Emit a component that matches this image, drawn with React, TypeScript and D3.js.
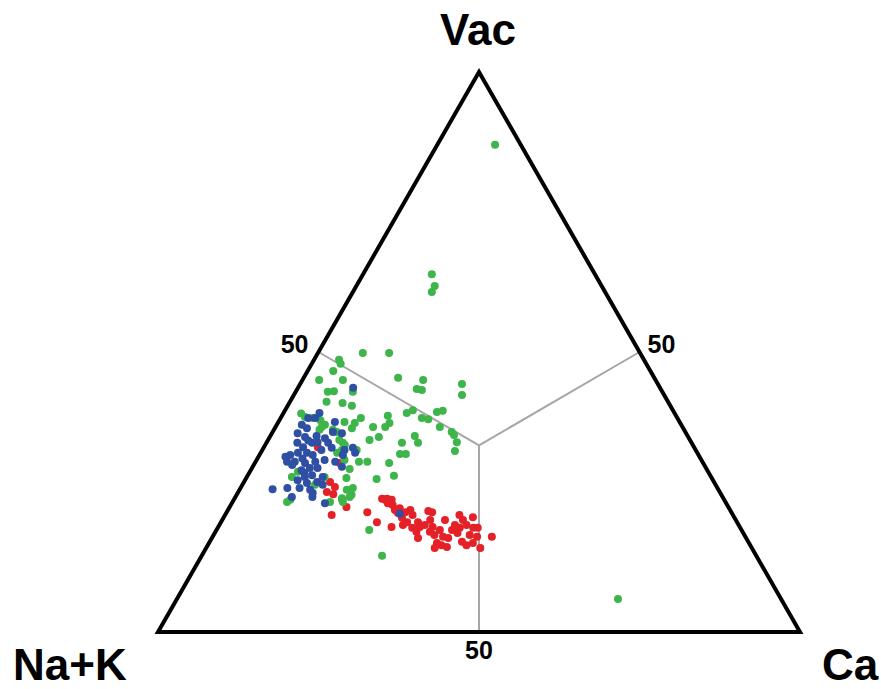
import React from 'react';
import * as d3 from 'd3';

// ternary composition in percent: [Vac, Ca]; Na+K = 100 - Vac - Ca
const greenPts: [number, number][] = [
  [87.0, 9.0], [63.9, 10.7], [61.8, 12.2], [60.7, 12.3], [5.9, 68.7],
  [49.8, 7.0], [49.8, 11.1], [48.6, 3.9], [47.9, 4.5], [46.6, 4.0], [45.0, 2.6], [45.0, 6.3],
  [45.4, 14.7], [45.0, 18.8], [44.3, 25.2], [42.3, 26.2], [43.4, 18.6], [43.2, 19.5],
  [42.9, 5.0], [43.0, 5.9], [42.9, 8.9], [41.1, 5.7], [40.9, 8.3], [40.4, 10.0],
  [38.2, 12.5], [38.6, 16.5], [37.3, 17.4], [36.6, 17.1], [36.6, 15.2], [39.1, 19.2], [39.6, 19.9],
  [39.3, 23.8], [39.5, 24.6], [38.2, 22.0], [38.0, 23.1], [36.6, 25.6], [35.7, 27.9], [35.2, 28.5],
  [35.0, 22.5], [34.8, 17.0], [34.3, 15.8], [33.8, 23.6], [33.8, 21.1], [33.9, 29.6], [32.3, 30.1],
  [31.8, 21.8], [31.8, 22.7], [30.2, 20.9], [30.4, 16.1], [30.4, 17.4], [29.1, 15.3],
  [33.4, 12.4], [36.4, 12.0], [37.5, 10.3], [36.1, 9.2], [37.0, 7.5], [38.4, 3.7], [38.2, 5.0],
  [36.1, 7.1], [33.8, 11.9], [37.3, 12.0], [35.7, 10.0], [32.0, 11.9], [30.7, 13.7], [27.5, 15.6],
  [27.7, 7.0], [28.6, 7.5], [26.3, 11.3], [23.6, 8.8], [23.2, 8.5], [25.4, 16.7], [25.7, 17.5],
  [24.1, 17.8], [23.9, 16.7], [27.7, 12.1], [23.2, 15.2], [18.2, 23.8], [13.6, 28.1],
  [27.3, 20.4], [27.9, 22.8], [23.2, 17.2], [24.5, 17.9], [32.5, 14.7], [32.5, 12.4],
  [34.3, 11.1], [36.6, 7.2], [39.0, 2.8], [37.8, 6.4],
];

const bluePts: [number, number][] = [
  [39.1, 5.6], [38.2, 5.4], [38.2, 4.3], [37.0, 3.9], [36.4, 5.0], [37.5, 8.8], [35.7, 9.4],
  [35.5, 10.9], [35.5, 4.0], [34.8, 5.5], [34.6, 8.7], [33.8, 4.8], [33.0, 6.1], [33.8, 7.1],
  [33.9, 7.9], [33.8, 9.6], [32.5, 9.2], [32.9, 10.6], [32.5, 12.8], [32.9, 13.9], [32.0, 14.7],
  [31.6, 4.8], [32.0, 5.8], [32.0, 7.2], [31.6, 8.3], [30.4, 4.9], [30.4, 6.1], [30.2, 7.8],
  [30.4, 9.3], [30.7, 10.6], [30.4, 12.4], [28.9, 7.9], [29.3, 9.0], [29.3, 10.2], [27.7, 9.0],
  [28.0, 10.0], [27.1, 8.2], [26.6, 9.9], [25.7, 9.2], [25.4, 11.0], [26.8, 11.4], [25.5, 5.1],
  [25.7, 7.3], [24.1, 12.0], [29.8, 6.0], [29.5, 13.9], [43.6, 8.6], [21.1, 27.1], [24.1, 8.8],
  [26.3, 12.5], [23.0, 14.5], [27.7, 11.8], [31.3, 4.2], [31.6, 13.0], [24.8, 11.7],
  [34.2, 6.3], [31.0, 7.0], [28.4, 8.6], [35.0, 7.2],
];

const redPts: [number, number][] = [
  [26.8, 13.4], [25.9, 14.6], [25.0, 13.8], [24.6, 15.0], [23.6, 16.9], [22.3, 18.2], [20.9, 16.6],
  [21.4, 21.9], [19.6, 24.3], [23.8, 23.0], [23.8, 23.8], [23.6, 24.6], [23.0, 24.3], [22.7, 25.2],
  [21.8, 26.0], [21.3, 26.7], [18.75, 27.0], [20.4, 27.8], [21.8, 28.4], [20.9, 29.2], [19.6, 29.0],
  [18.6, 30.3], [19.6, 30.7], [17.9, 31.3], [16.8, 32.1], [21.6, 31.3], [21.4, 32.0], [20.0, 32.4],
  [19.1, 32.0], [18.75, 33.4], [17.9, 33.4], [17.3, 34.4], [18.2, 34.8], [20.0, 34.7], [17.0, 35.9],
  [16.8, 36.8], [15.9, 35.5], [15.5, 36.4], [15.0, 35.6], [15.2, 37.4], [20.9, 36.5], [20.0, 37.5],
  [20.5, 38.8], [19.1, 36.7], [18.6, 37.7], [19.1, 38.5], [18.6, 39.8], [18.6, 40.5], [17.7, 37.8],
  [17.3, 39.9], [17.0, 41.2], [16.1, 39.3], [15.5, 40.3], [15.9, 41.1], [15.0, 42.7], [17.0, 43.5],
  [18.2, 36.7], [19.1, 28.6], [18.75, 31.4], [33.0, 8.4], [30.2, 13.2], [23.6, 23.6], [22.1, 26.6],
  [21.4, 27.8],
];

const cornerLabels = ['Vac', 'Na+K', 'Ca'];
const tickLabel = '50';

const W = 881, H = 689;

export default function App() {
  // x follows Ca + Vac/2, y follows Vac
  const x = d3.scaleLinear().domain([0, 100]).range([158, 800]);
  const y = d3.scaleLinear().domain([0, 100]).range([632, 72]);
  const proj = (vac: number, ca: number): [number, number] => [x(ca + vac / 2), y(vac)];

  const top = proj(100, 0), left = proj(0, 0), right = proj(0, 100);
  const center = proj(100 / 3, 100 / 3);
  const midL = proj(50, 0), midR = proj(50, 50), midB = proj(0, 50);

  const line = d3.line();
  const tri = line([top, left, right]) + 'Z';

  const groups: [[number, number][], string][] = [
    [redPts, '#e42127'],
    [greenPts, '#3db54a'],
    [bluePts, '#2e4fa3'],
  ];

  const font = "'Liberation Sans', Arial, sans-serif";

  return (
    <svg width={W} height={H} style={{ position: 'absolute', left: 0, top: 0, background: '#fff' }}>
      {[midL, midR, midB].map((m, i) => (
        <path key={i} d={line([center, m]) || ''} stroke="#a6a6a6" strokeWidth={2} fill="none" />
      ))}
      {groups.map(([pts, col], gi) => (
        <g key={gi} fill={col}>
          {pts.map(([v, c], i) => {
            const [px, py] = proj(v, c);
            return <circle key={i} cx={px} cy={py} r={4} />;
          })}
        </g>
      ))}
      <path d={tri} fill="none" stroke="#000" strokeWidth={4} strokeLinejoin="miter" />
      <g fontFamily={font} fontWeight="bold" fill="#000">
        <text x={top[0] - 1} y={45} fontSize={44} textAnchor="middle">{cornerLabels[0]}</text>
        <text x={13} y={680} fontSize={44}>{cornerLabels[1]}</text>
        <text x={822} y={680} fontSize={44}>{cornerLabels[2]}</text>
        <text x={midL[0] - 10} y={midL[1] + 1} fontSize={25} textAnchor="end">{tickLabel}</text>
        <text x={midR[0] + 8} y={midR[1] + 1} fontSize={25}>{tickLabel}</text>
        <text x={midB[0]} y={659} fontSize={25} textAnchor="middle">{tickLabel}</text>
      </g>
    </svg>
  );
}
